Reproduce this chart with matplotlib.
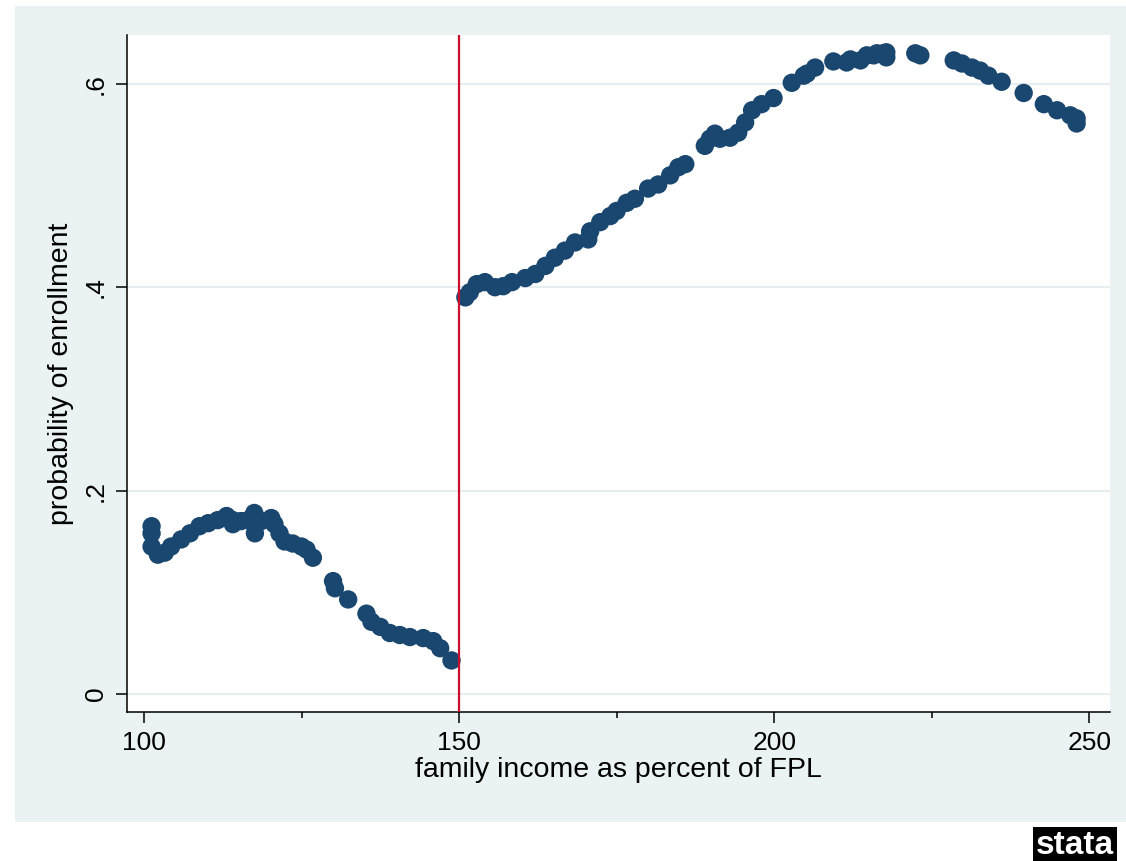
import matplotlib
matplotlib.use("Agg")
import matplotlib.pyplot as plt
from matplotlib.patches import Rectangle

plt.rcParams['font.family'] = ['Liberation Sans', 'DejaVu Sans']

# Income (% of FPL) and predicted probability of enrollment
income = [
    101.2, 101.2, 101.2, 102.2, 103.3, 104.3, 105.9, 107.3, 108.8, 110.2,
    111.7, 113.1, 114.1, 114.1, 115.4, 116.5, 117.5, 117.5, 117.6, 118.6,
    120.2, 120.7, 121.5, 122.3, 123.6, 125.0, 125.8, 126.8, 130.0, 130.3,
    132.4, 135.3, 136.1, 137.5, 139.0, 140.6, 142.2, 144.3, 145.9, 147.0,
    148.8,
    151.0, 151.7, 152.8, 154.1, 155.7, 157.0, 158.4, 160.5, 162.1, 163.7,
    165.2, 166.8, 168.4, 170.5, 170.8, 172.4, 174.0, 175.0, 176.6, 177.9,
    180.0, 181.6, 183.5, 184.8, 185.9, 189.0, 189.8, 190.6, 191.4, 193.0,
    194.3, 195.4, 196.5, 198.0, 199.9, 202.8, 204.7, 205.2, 206.5, 209.4,
    211.5, 212.1, 213.7, 214.7, 215.8, 216.3, 217.3, 217.8, 217.8, 222.4,
    223.2, 228.5, 229.8, 231.4, 232.7, 234.0, 236.1, 239.6, 242.8, 244.9,
    247.0, 248.0, 248.0,
]
prob = [
    0.165, 0.158, 0.145, 0.137, 0.139, 0.145, 0.152, 0.158, 0.165, 0.168,
    0.171, 0.175, 0.171, 0.167, 0.170, 0.171, 0.178, 0.167, 0.158, 0.170,
    0.173, 0.167, 0.158, 0.150, 0.148, 0.145, 0.142, 0.134, 0.111, 0.104,
    0.093, 0.079, 0.071, 0.066, 0.060, 0.058, 0.056, 0.055, 0.052, 0.045,
    0.033,
    0.390, 0.395, 0.403, 0.405, 0.400, 0.401, 0.405, 0.409, 0.413, 0.421,
    0.429, 0.436, 0.444, 0.447, 0.455, 0.464, 0.470, 0.475, 0.483, 0.487,
    0.497, 0.501, 0.510, 0.518, 0.521, 0.539, 0.546, 0.551, 0.546, 0.547,
    0.552, 0.562, 0.574, 0.580, 0.586, 0.601, 0.608, 0.610, 0.616, 0.622,
    0.621, 0.624, 0.623, 0.628, 0.628, 0.630, 0.630, 0.631, 0.626, 0.630,
    0.628, 0.623, 0.620, 0.616, 0.613, 0.608, 0.602, 0.591, 0.580, 0.574,
    0.569, 0.561, 0.566,
]
cutoff = 150

x_ticks = [100, 150, 200, 250]
x_minor = [125, 175, 225]
y_ticks = [0, 0.2, 0.4, 0.6]
y_ticklabels = ["0", ".2", ".4", ".6"]

navy = "#1a476f"
bg = "#eaf2f3"

fig = plt.figure(figsize=(11.26, 8.61), dpi=100)
fig.patch.set_facecolor("white")
# Graph region panel, kept behind the plot axes
fig.patches.append(Rectangle((15 / 1126, 1 - 822 / 861), 1.0, (822 - 6) / 861,
                             transform=fig.transFigure, facecolor=bg,
                             edgecolor="none", zorder=-10))

ax = fig.add_axes([127 / 1126, 1 - 712 / 861, (1110 - 127) / 1126, (712 - 35) / 861])
ax.set_zorder(5)
ax.set_facecolor("white")
ax.set_xlim(97.3, 253.3)
ax.set_ylim(-0.0177, 0.648)

for yv in y_ticks:
    ax.axhline(yv, color="#e6eef0", lw=1.5, zorder=1)

ax.scatter(income, prob, s=175, color=navy, edgecolors="none", zorder=3)
ax.axvline(cutoff, color="#c8102e", lw=1.6, zorder=4)

for side in ("top", "right"):
    ax.spines[side].set_visible(False)
for side in ("left", "bottom"):
    ax.spines[side].set_linewidth(1.1)
    ax.spines[side].set_color("black")

ax.set_xticks(x_ticks)
ax.set_xticks(x_minor, minor=True)
ax.set_yticks(y_ticks)
ax.set_yticklabels(y_ticklabels, rotation=90, va="center")
ax.tick_params(axis="both", which="major", length=8, width=1.1, labelsize=19, pad=6)
ax.tick_params(axis="x", which="minor", length=4, width=1.1)

ax.set_xlabel("family income as percent of FPL", fontsize=20.5, labelpad=1)
ax.set_ylabel("probability of enrollment", fontsize=20.5, labelpad=7)

# Stata logo badge
fig.text(1036 / 1126, 1 - 845 / 861, "stata", fontsize=24, fontweight="bold",
         color="white", va="center", ha="left",
         bbox=dict(boxstyle="square,pad=0.08", facecolor="black", edgecolor="none"))

fig.savefig("out.png", dpi=100, facecolor=fig.get_facecolor())
